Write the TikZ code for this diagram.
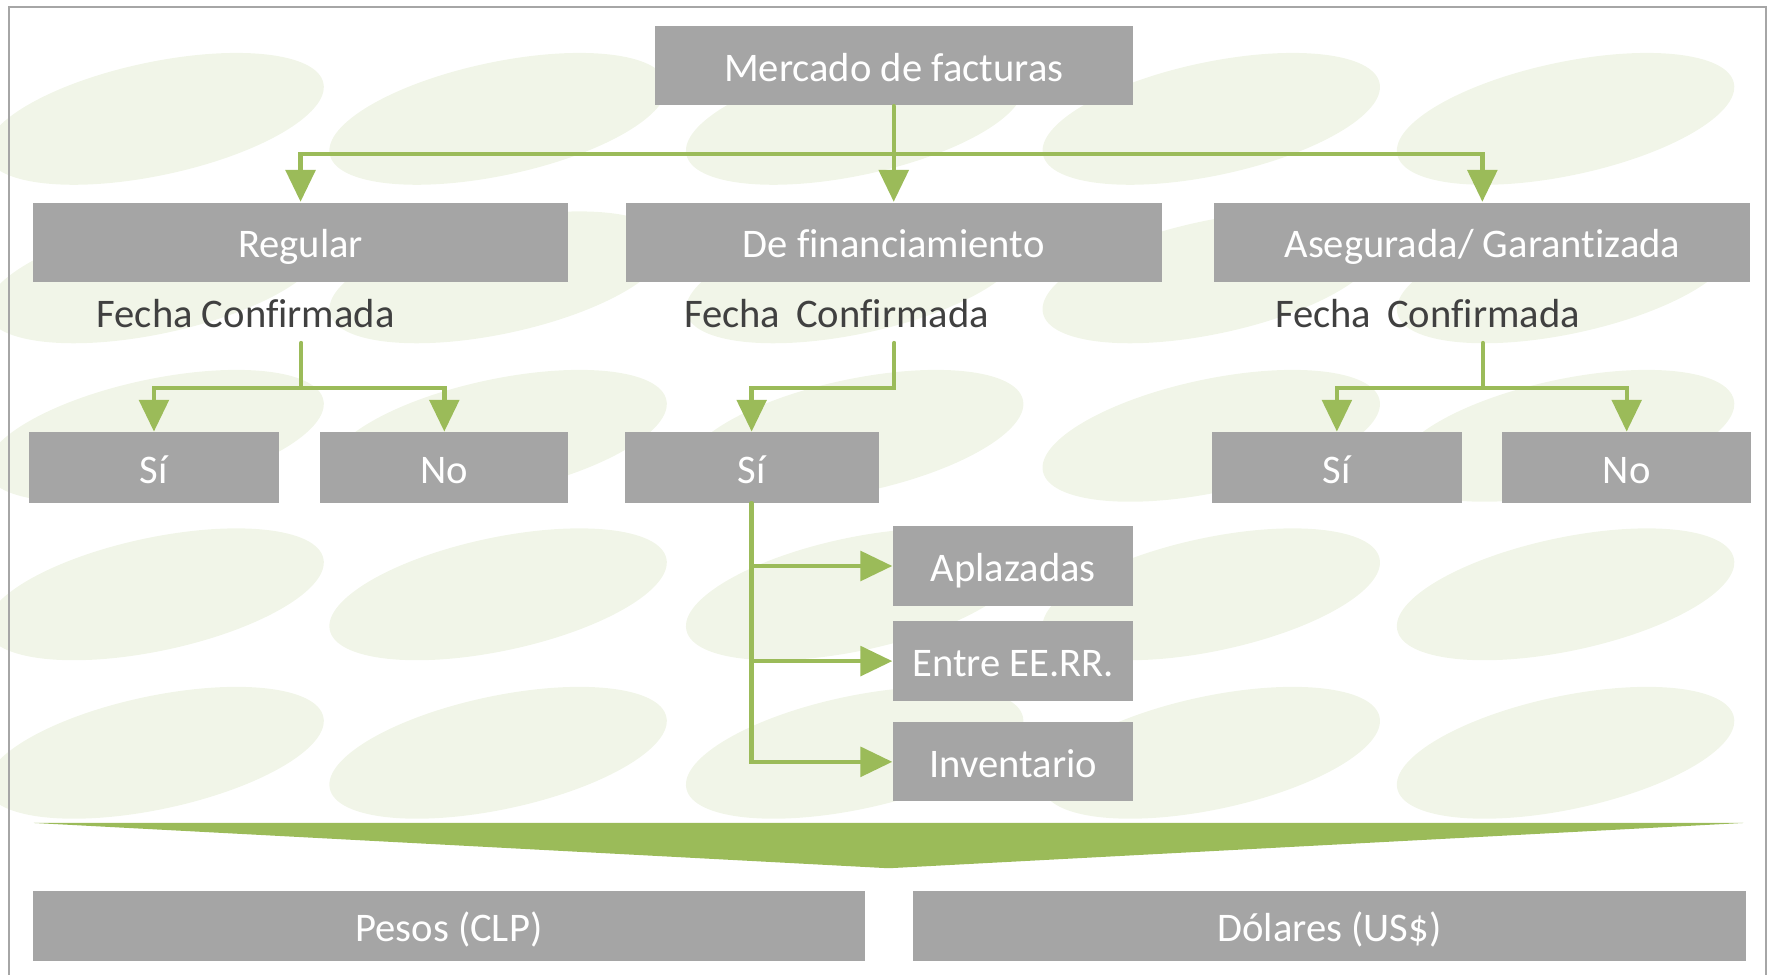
\documentclass[tikz,border=0pt]{standalone}
\usepackage{fontspec}
\setmainfont{Carlito}[Ligatures=NoCommon]
\usetikzlibrary{arrows.meta}
\definecolor{gris}{HTML}{A5A5A5}
\definecolor{verde}{HTML}{9BBB59}
\definecolor{texto}{HTML}{404040}
\definecolor{fondo}{HTML}{EBF1DE}
\definecolor{marco}{HTML}{A6A6A6}

\begin{document}
\begin{tikzpicture}[x=0.01cm,y=-0.01cm,font=\fontsize{10.2}{12}\selectfont]
\tikzstyle{lien}=[-{Triangle[width=7.4pt,length=8pt]},verde,line width=1.1pt,line cap=round]
\tikzset{caja/.style={fill=gris,text=white,inner sep=0pt,text height=0.78em,text depth=0pt,minimum height=#1},
caja/.default={0.7cm},
etiqueta/.style={text=texto,inner sep=0pt,text height=0.78em,text depth=0pt}}
\useasboundingbox (0,0) rectangle (1568,861);
\clip (0,0) rectangle (1568,861);
\foreach \y in {105,245,385,525,665}
  \foreach \x in {137,440,755,1070,1383}
    \fill[fondo,opacity=0.7,rotate around={12:(\x,\y)}] (\x,\y) ellipse (152 and 50);
\draw[marco,line width=0.6pt] (8,6) rectangle (1560,890);

\node[caja,minimum width=4.22cm] (mercado) at (789.5,58) {Mercado de facturas};
\node[caja,minimum width=4.73cm] (regular) at (265.5,214) {Regular};
\node[caja,minimum width=4.73cm] (financ) at (789.5,214) {De financiamiento};
\node[caja,minimum width=4.73cm] (asegurada) at (1309.5,214) {Asegurada/ Garantizada};
\node[etiqueta] (fecha1) at (217,276) {Fecha Confirmada};
\node[etiqueta] (fecha2) at (739,276) {Fecha\, Confirmada};
\node[etiqueta] (fecha3) at (1261,276) {Fecha\, Confirmada};
\node[caja=0.62cm,minimum width=2.2cm] (si1) at (136,413) {Sí};
\node[caja=0.62cm,minimum width=2.19cm] (no1) at (392.5,413) {No};
\node[caja=0.62cm,minimum width=2.24cm] (si2) at (664,413) {Sí};
\node[caja=0.62cm,minimum width=2.2cm] (si3) at (1181,413) {Sí};
\node[caja=0.62cm,minimum width=2.2cm] (no3) at (1437,413) {No};
\node[caja,minimum width=2.12cm] (aplazadas) at (895,500) {Aplazadas};
\node[caja,minimum width=2.12cm] (entre) at (895,584) {Entre EE.RR.};
\node[caja,minimum width=2.12cm] (inventario) at (895,673) {Inventario};
\node[caja=0.62cm,minimum width=7.35cm] (pesos) at (396.5,818) {Pesos (CLP)};
\node[caja=0.62cm,minimum width=7.35cm] (dolares) at (1174.5,818) {Dólares (US\$)};

\fill[verde] (30,727) -- (1540,727) -- (785,767) -- cycle;

\coordinate (bus) at (789.5,136);
\coordinate (r1) at (266,303);
\coordinate (r2) at (266,343);
\coordinate (f1) at (790,303);
\coordinate (f2) at (790,343);
\coordinate (a1) at (1310,303);
\coordinate (a2) at (1310,343);

\draw[lien] (mercado) -- (financ);
\draw[lien] (bus) -| (regular.north);
\draw[lien] (bus) -| (asegurada.north);
\draw[lien] (r1) -- (r2) -| (si1.north);
\draw[lien] (r2) -| (no1.north);
\draw[lien] (f1) -- (f2) -| (si2.north);
\draw[lien] (a1) -- (a2) -| (si3.north);
\draw[lien] (a2) -| (no3.north);
\draw[lien] (si2.south) |- (aplazadas.west);
\draw[lien] (si2.south) |- (entre.west);
\draw[lien] (si2.south) |- (inventario.west);

\end{tikzpicture}
\end{document}
